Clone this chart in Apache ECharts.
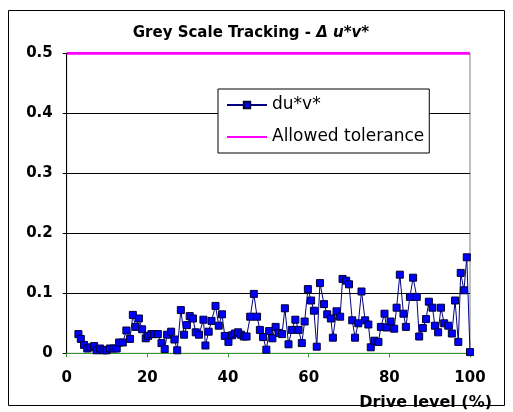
<!DOCTYPE html>
<html>
<head>
<meta charset="utf-8">
<script src="https://cdn.jsdelivr.net/npm/echarts@6/dist/echarts.min.js"></script>
<style>
  html, body { margin: 0; padding: 0; background: #fff; }
  #chart { width: 513px; height: 412px; }
</style>
</head>
<body>
<div id="chart"></div>
<script>
// drive level (%) of each measurement
var driveLevel = [
  2.9, 3.5, 4.3, 5.1, 5.9, 6.8, 7.4, 8.3, 9.1, 9.9,
  10.7, 11.6, 12.4, 13.0, 13.9, 14.8, 15.7, 16.4, 17.1, 17.9,
  18.7, 19.6, 20.2, 21.0, 21.7, 22.6, 23.5, 24.3, 24.9, 25.9,
  26.7, 27.4, 28.3, 29.1, 29.8, 30.5, 31.3, 32.0, 32.8, 33.9,
  34.4, 35.2, 35.9, 36.9, 37.7, 38.5, 39.2, 40.1, 41.0, 41.7,
  42.5, 43.2, 43.9, 44.6, 45.5, 46.4, 47.2, 47.9, 48.7, 49.5,
  50.2, 51.0, 51.8, 52.6, 53.4, 54.1, 55.0, 55.8, 56.7, 57.5,
  58.3, 59.0, 59.8, 60.6, 61.3, 62.0, 62.8, 63.8, 64.6, 65.5,
  66.0, 66.9, 67.8, 68.4, 69.3, 70.0, 70.8, 71.5, 72.3, 73.1,
  74.0, 74.8, 75.4, 76.3, 77.3, 77.9, 78.8, 79.3, 80.3, 81.2,
  81.8, 82.6, 83.5, 84.1, 85.1, 85.9, 86.8, 87.4, 88.3, 89.1,
  89.8, 90.7, 91.3, 92.1, 92.8, 93.6, 94.6, 95.5, 96.3, 97.1,
  97.7, 98.5, 99.2, 100
];
// du*v* at each drive level
var duv = [
  0.032, 0.024, 0.014, 0.008, 0.010, 0.012, 0.005, 0.008, 0.005, 0.005,
  0.008, 0.008, 0.008, 0.018, 0.018, 0.038, 0.024, 0.064, 0.044, 0.058,
  0.040, 0.025, 0.029, 0.032, 0.032, 0.032, 0.017, 0.007, 0.031, 0.036,
  0.023, 0.005, 0.072, 0.031, 0.047, 0.062, 0.058, 0.035, 0.031, 0.056,
  0.013, 0.036, 0.054, 0.079, 0.046, 0.065, 0.029, 0.019, 0.030, 0.033,
  0.035, 0.031, 0.028, 0.028, 0.061, 0.099, 0.061, 0.039, 0.027, 0.006,
  0.037, 0.025, 0.044, 0.034, 0.032, 0.075, 0.015, 0.039, 0.056, 0.039,
  0.017, 0.053, 0.107, 0.088, 0.071, 0.011, 0.117, 0.082, 0.065, 0.058,
  0.026, 0.070, 0.061, 0.124, 0.121, 0.115, 0.055, 0.026, 0.050, 0.103,
  0.055, 0.048, 0.010, 0.021, 0.019, 0.044, 0.066, 0.043, 0.053, 0.041,
  0.076, 0.131, 0.066, 0.044, 0.094, 0.126, 0.094, 0.028, 0.042, 0.057,
  0.086, 0.076, 0.046, 0.035, 0.076, 0.050, 0.046, 0.033, 0.088, 0.019,
  0.134, 0.105, 0.160, 0.002
];
// allowed tolerance line
var tolX = [0, 100];
var tolY = [0.5, 0.5];

var xTicks = [0, 20, 40, 60, 80, 100];
var yTicks = [0, 0.1, 0.2, 0.3, 0.4, 0.5];

var font = 'DejaVu Sans, Verdana, sans-serif';

var chart = echarts.init(document.getElementById('chart'));

var option = {
  animation: false,
  backgroundColor: '#fff',
  textStyle: { fontFamily: font },
  title: {
    text: '{n|Grey Scale Tracking - }{i|Δ u*v*}',
    left: 246,
    top: 21,
    textAlign: 'center',
    textStyle: {
      rich: {
        n: { fontFamily: font, fontSize: 15, fontWeight: 'bold', color: '#000' },
        i: { fontFamily: font, fontSize: 15, fontWeight: 'bold', fontStyle: 'italic', color: '#000' }
      }
    }
  },
  legend: {
    orient: 'vertical',
    left: 218,
    top: 89,
    padding: [7.5, 5, 7.5, 8],
    itemGap: 15,
    itemWidth: 40,
    itemHeight: 8,
    backgroundColor: '#fff',
    borderColor: '#000',
    borderWidth: 1,
    textStyle: { fontFamily: font, fontSize: 17, color: '#000' },
    data: [
      { name: 'du*v*' },
      { name: 'Allowed tolerance', itemStyle: { opacity: 0 } }
    ]
  },
  grid: {
    left: 66.7,
    top: 53.3,
    right: 43,
    bottom: 58.7,
    show: true,
    backgroundColor: '#fff',
    borderColor: '#808080',
    borderWidth: 1
  },
  xAxis: {
    type: 'value',
    min: xTicks[0],
    max: xTicks[xTicks.length - 1],
    interval: 20,
    axisLine: { show: true, lineStyle: { color: '#339933', width: 1 } },
    axisTick: { show: true, length: 4, lineStyle: { color: '#339933' } },
    splitLine: { show: false },
    axisLabel: {
      margin: 17,
      color: '#000',
      fontFamily: font,
      fontSize: 15,
      fontWeight: 'bold'
    }
  },
  yAxis: {
    type: 'value',
    min: yTicks[0],
    max: yTicks[yTicks.length - 1],
    interval: 0.1,
    axisLine: { show: true, lineStyle: { color: '#000', width: 1 } },
    axisTick: { show: true, length: 4, lineStyle: { color: '#000' } },
    splitLine: { show: true, lineStyle: { color: '#000', width: 1 } },
    axisLabel: {
      margin: 14,
      color: '#000',
      fontFamily: font,
      fontSize: 15,
      fontWeight: 'bold'
    }
  },
  series: [
    {
      name: 'du*v*',
      type: 'line',
      data: driveLevel.map(function (x, i) { return [x, duv[i]]; }),
      symbol: 'rect',
      symbolSize: 7,
      showAllSymbol: true,
      lineStyle: { color: '#000080', width: 1 },
      itemStyle: { color: '#0000ff', borderColor: '#000033', borderWidth: 1 },
      z: 3
    },
    {
      name: 'Allowed tolerance',
      type: 'line',
      data: tolX.map(function (x, i) { return [x, tolY[i]]; }),
      symbol: 'none',
      lineStyle: { color: '#ff00ff', width: 3 },
      itemStyle: { color: '#ff00ff' },
      z: 4
    }
  ],
  graphic: [
    {
      type: 'rect',
      shape: { x: 8.5, y: 10.5, width: 496, height: 395 },
      style: { fill: 'none', stroke: '#000', lineWidth: 1 },
      silent: true,
      z: -10
    },
    {
      type: 'text',
      right: 21,
      top: 395,
      style: {
        text: 'Drive level (%)',
        fontFamily: font,
        fontSize: 16,
        fontWeight: 'bold',
        fill: '#000'
      }
    }
  ]
};

chart.setOption(option);
</script>
</body>
</html>
